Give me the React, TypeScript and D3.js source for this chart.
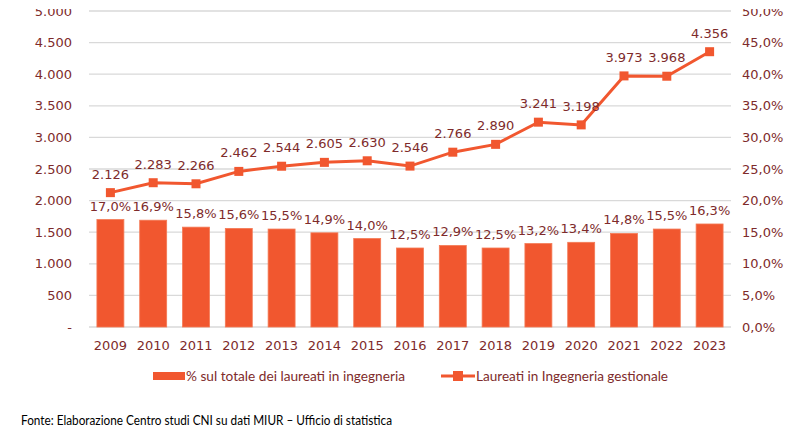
import React from "react";
import * as d3 from "d3";

const years = ["2009","2010","2011","2012","2013","2014","2015","2016","2017","2018","2019","2020","2021","2022","2023"];
const laureati = [2126,2283,2266,2462,2544,2605,2630,2546,2766,2890,3241,3198,3973,3968,4356];
const percent = [17.0,16.9,15.8,15.6,15.5,14.9,14.0,12.5,12.9,12.5,13.2,13.4,14.8,15.5,16.3];
const leftTicks = [0,500,1000,1500,2000,2500,3000,3500,4000,4500,5000];
const rightTicks = [0,5,10,15,20,25,30,35,40,45,50];
const legendBar = "% sul totale dei laureati in ingegneria";
const legendLine = "Laureati in Ingegneria gestionale";
const source = "Fonte: Elaborazione Centro studi CNI su dati MIUR \u2013 Ufficio di statistica";

const W = 800, H = 448;
const left = 89, right = 731, top = 11, bottom = 327;
const ORANGE = "#F1572F";
const TXT = "#7E2B2B";
const GRID = "#D9D9D9";
const AX = "DejaVu Sans, Verdana, sans-serif";
const CAL = "Lato, 'Open Sans', sans-serif";

const fmtInt = (v: number) => v === 0 ? "-" : d3.format(",")(v).replace(/,/g, ".");
const fmtPct = (v: number) => v.toFixed(1).replace(".", ",") + "%";

export default function App() {
  const x = d3.scaleBand<string>().domain(years).range([left, right]).paddingInner(0.37).paddingOuter(0.185);
  const yL = d3.scaleLinear().domain([0, 5000]).range([bottom, top]);
  const yR = d3.scaleLinear().domain([0, 50]).range([bottom, top]);
  const cx = (y: string) => (x(y) ?? 0) + x.bandwidth() / 2;
  const line = d3.line<number>().x((_, i) => cx(years[i])).y(d => yL(d));

  return (
    <svg width={W} height={H} style={{ position: "absolute", left: 0, top: 0, background: "#fff" }}>
      {leftTicks.map(t => (
        <line key={"g" + t} x1={left} x2={right} y1={yL(t)} y2={yL(t)} stroke={GRID} strokeWidth={1.3} />
      ))}
      {leftTicks.map(t => (
        <text key={"l" + t} x={72} y={yL(t)} dy="0.35em" textAnchor="end" fontFamily={AX} fontSize={13} fill={TXT}>{fmtInt(t)}</text>
      ))}
      {rightTicks.map(t => (
        <text key={"r" + t} x={742} y={yR(t)} dy="0.35em" textAnchor="start" fontFamily={AX} fontSize={13} fill={TXT}>{fmtPct(t)}</text>
      ))}
      {percent.map((p, i) => (
        <rect key={"b" + i} x={x(years[i])} y={yR(p)} width={x.bandwidth()} height={bottom - yR(p)} fill={ORANGE} stroke="#F47A55" strokeWidth={0.8} />
      ))}
      {percent.map((p, i) => (
        <text key={"pl" + i} x={cx(years[i])} y={yR(p) - 9} textAnchor="middle" fontFamily={AX} fontSize={13} fill={TXT}>{fmtPct(p)}</text>
      ))}
      <path d={line(laureati) ?? ""} fill="none" stroke={ORANGE} strokeWidth={3} />
      {laureati.map((v, i) => (
        <rect key={"m" + i} x={cx(years[i]) - 4.5} y={yL(v) - 4.5} width={9} height={9} fill={ORANGE} />
      ))}
      {laureati.map((v, i) => (
        <text key={"vl" + i} x={cx(years[i])} y={yL(v) - 14} textAnchor="middle" fontFamily={AX} fontSize={13} fill={TXT}>{fmtInt(v)}</text>
      ))}
      {years.map(y => (
        <text key={"y" + y} x={cx(y)} y={350} textAnchor="middle" fontFamily={AX} fontSize={13} fill={TXT}>{y}</text>
      ))}
      <rect x={153} y={372} width={32} height={8} fill={ORANGE} />
      <text x={186} y={376} dy="0.35em" fontFamily={CAL} fontSize={14} fill={TXT} textLength={219} lengthAdjust="spacingAndGlyphs">{legendBar}</text>
      <line x1={441} x2={475} y1={376} y2={376} stroke={ORANGE} strokeWidth={3} />
      <rect x={453} y={371} width={10} height={10} fill={ORANGE} />
      <text x={476} y={376} dy="0.35em" fontFamily={CAL} fontSize={14} fill={TXT} textLength={192} lengthAdjust="spacingAndGlyphs">{legendLine}</text>
      <text x={21} y={421} dy="0.35em" fontFamily={CAL} fontSize={12.5} fill="#000" textLength={371} lengthAdjust="spacingAndGlyphs">{source}</text>
      <rect x={0} y={0} width={W} height={9} fill="#fff" />
    </svg>
  );
}
